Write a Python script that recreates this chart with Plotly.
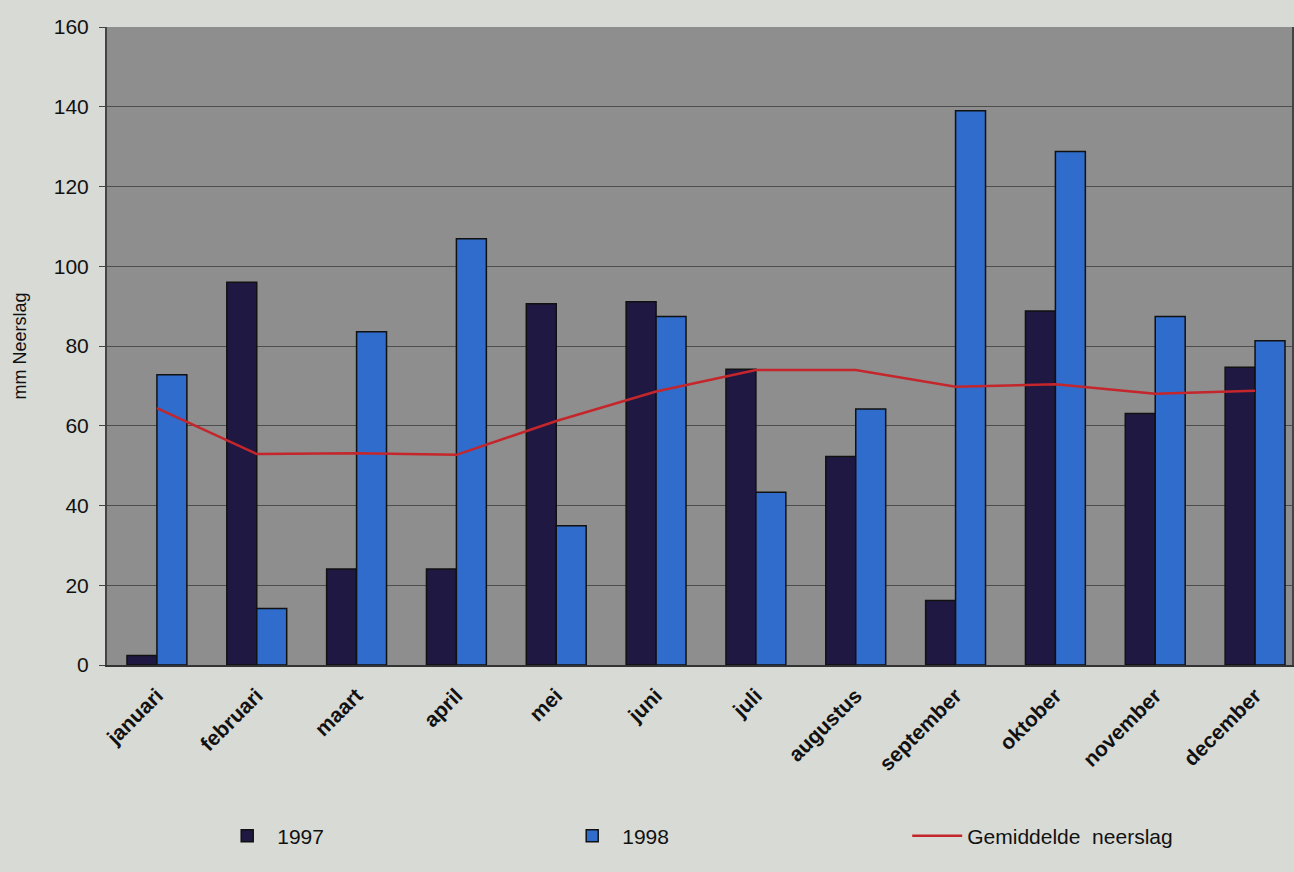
import plotly.graph_objects as go

# Maandelijkse neerslag (mm)
maanden = ["januari", "februari", "maart", "april", "mei", "juni",
           "juli", "augustus", "september", "oktober", "november", "december"]
neerslag_1997 = [2.4, 96.0, 24.1, 24.1, 90.6, 91.1, 74.2, 52.3, 16.2, 88.8, 63.1, 74.7]
neerslag_1998 = [72.8, 14.2, 83.6, 106.9, 34.9, 87.4, 43.3, 64.2, 139.0, 128.8, 87.4, 81.3]
gemiddeld = [64.4, 52.9, 53.1, 52.7, 61.2, 68.6, 74.0, 74.0, 69.8, 70.4, 68.0, 68.8]
y_ticks = [0, 20, 40, 60, 80, 100, 120, 140, 160]

FONT = "Arial, Liberation Sans, Helvetica, sans-serif"

fig = go.Figure()
fig.add_trace(go.Bar(
    x=maanden, y=neerslag_1997, name="1997",
    marker=dict(color="#1f1842", line=dict(color="#111111", width=1.5)),
))
fig.add_trace(go.Bar(
    x=maanden, y=neerslag_1998, name="1998",
    marker=dict(color="#2f6ccc", line=dict(color="#111111", width=1.5)),
))
fig.add_trace(go.Scatter(
    x=maanden, y=gemiddeld, name="Gemiddelde\u00a0\u00a0neerslag",
    mode="lines", line=dict(color="#c4262b", width=2.5),
))

fig.update_layout(
    width=1294, height=872,
    margin=dict(l=107, r=0, t=27, b=207),
    paper_bgcolor="#d7dad5",
    plot_bgcolor="#8e8e8e",
    barmode="group", bargap=0.4, bargroupgap=0,
    font=dict(family=FONT, color="#111111"),
    showlegend=True,
    legend=dict(
        orientation="h", x=0.093, y=-0.268, xanchor="left", yanchor="middle",
        bgcolor="rgba(0,0,0,0)", font=dict(size=21, family=FONT, color="#111111"),
        entrywidth=280, entrywidthmode="pixels", itemwidth=50,
        traceorder="normal",
    ),
)

fig.update_xaxes(
    range=[-0.5, 11.37],
    tickangle=-45,
    tickfont=dict(size=21, family=FONT, color="#111111", weight="bold"),
    ticklabelstandoff=8,
    showline=True, linecolor="#333333", linewidth=2,
    showgrid=False, ticks="",
)
fig.update_yaxes(
    range=[0, 160], tickvals=y_ticks,
    tickfont=dict(size=21, family=FONT, color="#111111"),
    ticklabelstandoff=6,
    title=dict(text="mm Neerslag", font=dict(size=18, family=FONT, color="#111111"), standoff=22),
    showline=True, linecolor="#444444", linewidth=2, mirror=True,
    showgrid=True, gridcolor="#4e4e4e", gridwidth=1,
    ticks="outside", ticklen=6, tickcolor="#444444",
    zeroline=False,
)

fig.write_html("out.html")
